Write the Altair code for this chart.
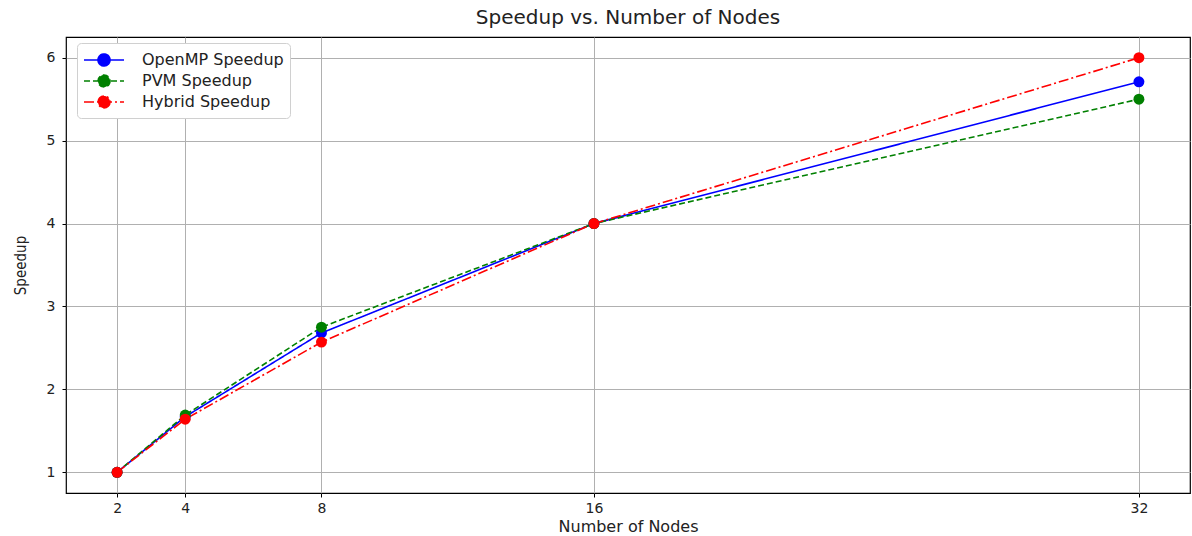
import altair as alt
import pandas as pd

nodes = [2, 4, 8, 16, 32]
openmp = [1.0, 1.67, 2.68, 4.0, 5.71]
pvm = [1.0, 1.69, 2.75, 4.0, 5.5]
hybrid = [1.0, 1.64, 2.57, 4.0, 6.0]

series_names = ["OpenMP Speedup", "PVM Speedup", "Hybrid Speedup"]
series_colors = ["#0000ff", "#008000", "#ff0000"]
series_dashes = [[1, 0], [6, 3], [10, 3, 2, 3]]

rows = []
for name, vals in zip(series_names, [openmp, pvm, hybrid]):
    for n, v in zip(nodes, vals):
        rows.append({"Nodes": n, "Speedup": v, "Series": name})
df = pd.DataFrame(rows)

font = "DejaVu Sans"

x = alt.X("Nodes:Q", title="Number of Nodes",
          scale=alt.Scale(domain=[0.5, 33.5], nice=False, zero=False),
          axis=alt.Axis(values=nodes, format="d"))
y = alt.Y("Speedup:Q", title="Speedup",
          scale=alt.Scale(domain=[0.75, 6.25], nice=False, zero=False),
          axis=alt.Axis(values=[1, 2, 3, 4, 5, 6], format="d"))

# line from 0 to 40 px with a dot in the middle (unit = 10 px at size 400)
legend_sym = ("M -1 0 L 3 0 M 1.6 0 A 0.6 0.6 0 1 1 0.4 0 "
              "A 0.6 0.6 0 1 1 1.6 0 Z")


def make_legend():
    return alt.Legend(orient="none", legendX=11, legendY=6,
                      symbolType=legend_sym, symbolSize=400,
                      symbolStrokeWidth=1.6, labelFontSize=16,
                      labelFont=font, labelColor="#222222",
                      rowPadding=0, labelOffset=37,
                      fillColor="white", strokeColor="#d0d0d0",
                      cornerRadius=4, padding=6)


color = alt.Color("Series:N", title=None,
                  scale=alt.Scale(domain=series_names, range=series_colors),
                  legend=make_legend())
dash = alt.StrokeDash("Series:N", title=None,
                      scale=alt.Scale(domain=series_names, range=series_dashes),
                      legend=make_legend())

lines = alt.Chart(df).mark_line(strokeWidth=1.6).encode(x=x, y=y, color=color, strokeDash=dash)
points = alt.Chart(df).mark_point(filled=True, size=120, opacity=1).encode(x=x, y=y, color=color)

chart = (lines + points).properties(
    width=1124, height=456,
    title=alt.Title("Speedup vs. Number of Nodes", font=font, fontSize=20,
                    fontWeight="normal", color="#222222", anchor="middle", offset=9),
    padding={"left": 66, "top": 37, "right": 2, "bottom": 43},
    autosize=alt.AutoSizeParams(type="none"),
).configure_view(stroke="#000000", strokeWidth=1.2).configure_axis(
    grid=True, gridColor="#b0b0b0", gridWidth=1, domain=False,
    tickColor="#000000", tickSize=4, labelFont=font, labelFontSize=14,
    labelColor="#222222", titleFont=font, titleFontSize=16, titleFontWeight="normal",
    titleColor="#222222", labelPadding=4
).configure_axisX(titlePadding=3).configure_axisY(
    titlePadding=18, titleFontSize=15,
    titleFont="Liberation Sans Narrow, DejaVu Sans Condensed, DejaVu Sans",
    labelPadding=7)

chart.save("out.html", embed_options={"renderer": "svg", "actions": False})
